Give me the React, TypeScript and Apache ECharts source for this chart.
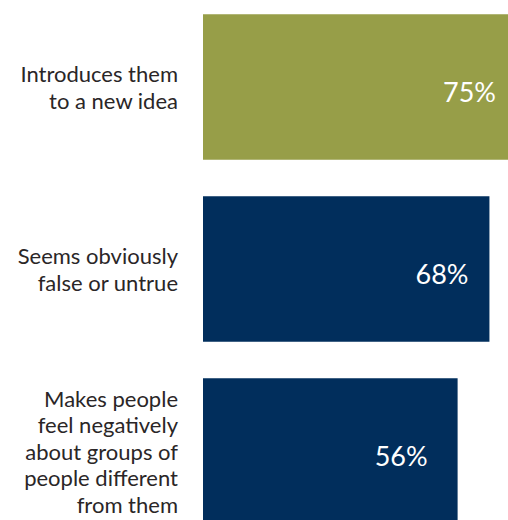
import React, { useEffect, useRef } from "react";
import * as echarts from "echarts";

const categories = [
  "Introduces them\nto a new idea",
  "Seems obviously\nfalse or untrue",
  "Makes people\nfeel negatively\nabout groups of\npeople different\nfrom them",
];
const values = [75, 68, 56];
const barColors = ["#979e48", "#012e5c", "#012e5c"];
const labelDistances = [12, 21, 30];

export default function App() {
  const ref = useRef<HTMLDivElement>(null);
  useEffect(() => {
    if (!ref.current) return;
    const chart = echarts.init(ref.current, null, { renderer: "svg" });
    chart.setOption({
      animation: false,
      backgroundColor: "#ffffff",
      grid: { left: 203, right: 0, top: -4, bottom: -22, outerBoundsMode: "none", containLabel: false },
      xAxis: {
        type: "value",
        min: -40,
        max: 75,
        startValue: -40,
        show: false,
      },
      yAxis: {
        type: "category",
        inverse: true,
        data: categories,
        axisLine: { show: false },
        axisTick: { show: false },
        splitLine: { show: false },
        axisLabel: {
          margin: 25,
          align: "right",
          color: "#2a2627",
          fontFamily: "Lato",
          fontSize: 22,
          lineHeight: 26.5,
        },
      },
      series: [
        {
          type: "bar",
          barCategoryGap: "20%",
          data: values.map((v, i) => ({
            value: v,
            itemStyle: { color: barColors[i] },
            label: { distance: labelDistances[i] },
          })),
          label: {
            show: true,
            position: "insideRight",
            formatter: "{c}%",
            color: "#ffffff",
            fontFamily: "Lato",
            fontSize: 27,
            offset: [0, 4],
          },
        },
      ],
    });
    return () => chart.dispose();
  }, []);
  return (
    <div
      ref={ref}
      style={{ position: "fixed", left: 0, top: 0, width: 508, height: 520 }}
    />
  );
}
